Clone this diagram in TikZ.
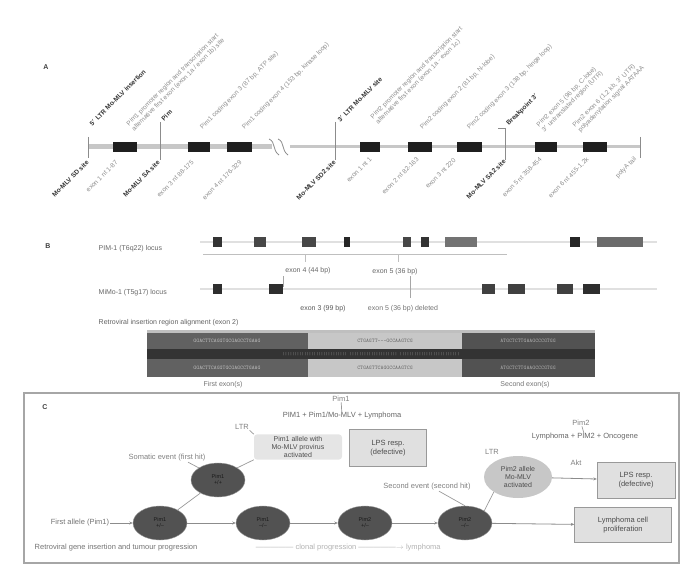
\documentclass[tikz,border=0pt]{standalone}
\usepackage{fontspec}
\setmainfont{Liberation Sans}
\usetikzlibrary{arrows.meta,shapes.geometric}
\begin{document}
\begin{tikzpicture}[x=1pt,y=-1pt,
  font=\fontsize{6.5}{7.5}\selectfont,
  lbl/.style={text=black!45, inner sep=0.5pt, font=\fontsize{6.5}{7.5}\selectfont},
  blbl/.style={text=black!80, font=\fontsize{6.5}{7.5}\selectfont\bfseries, inner sep=0.5pt},
  clbl/.style={text=black!55, inner sep=0.5pt, font=\fontsize{7}{8}\selectfont},
  klbl/.style={text=black!55, inner sep=0.5pt, font=\fontsize{7.5}{8.5}\selectfont},
  upl/.style={rotate=45, anchor=west},
  dnl/.style={rotate=45, anchor=east},
  exonbox/.style={fill=black!88, draw=none},
  tick/.style={draw=black!45, line width=0.8pt},
  panel/.style={font=\fontsize{7}{8}\selectfont\bfseries, text=black!75},
  ell/.style={ellipse, fill=black!68, draw=black!40, minimum width=54pt, minimum height=34pt, inner sep=0pt, font=\fontsize{5.5}{6}\selectfont, text=black!90, align=center},
  gbox/.style={draw=black!40, fill=black!12, inner sep=2pt, align=center, text=black!70, font=\fontsize{7.5}{9.5}\selectfont},
  conn/.style={draw=black!45, line width=0.8pt, -{Stealth[length=3.5pt,width=3pt]}},
  plain/.style={draw=black!40, line width=0.7pt},
  seq/.style={font=\fontsize{5.5}{6}\ttfamily, inner sep=0pt}
]
\useasboundingbox (0,0) rectangle (698,577);

% ---------------- Panel A ----------------
\node[panel] (pa) at (46,67) {A};
\coordinate (a0) at (88,147);
\coordinate (a1) at (272,147);
\coordinate (a2) at (290,147);
\coordinate (a3) at (640,147);
\draw[black!22, line width=5pt] (a0) -- (a1);
\draw[black!22, line width=3pt] (a2) -- (a3);
\draw[black!45, line width=0.8pt] (269,139) .. controls (276,142) and (272,150) .. (279,155);
\draw[black!45, line width=0.8pt] (278,139) .. controls (285,142) and (281,150) .. (288,155);
\foreach \xa/\xb in {113/137,188/210,227/252,360/380,408/432,457/482,535/557,583/607}
  \fill[exonbox] (\xa,142) rectangle (\xb,152);
% ticks
\draw[tick] (88,137) -- (88,158);
\draw[tick] (160,122) -- (160,160);
\draw[tick] (335,122) -- (335,160);
\draw[tick] (505,128) -- (505,160);
\draw[tick] (640,137) -- (640,158);
\draw[tick] (498,128) -- (505,128);
% labels above
\node[blbl,upl] (u1) at (90,125) {5$'$ LTR Mo-MLV insertion};
\node[lbl,upl,align=left] (u2) at (130,128) {Pim1 promoter region and transcription start\\alternative first exon (exon 1a / exon 1b) site};
\node[blbl,upl] (u3) at (162,120) {Pim};
\node[lbl,upl] (u4) at (201,129) {Pim1 coding exon 3 (87 bp, ATP site)};
\node[lbl,upl] (u5) at (243,129) {Pim1 coding exon 4 (153 bp, kinase loop)};
\node[blbl,upl] (u6) at (338,121) {3$'$ LTR Mo-MLV site};
\node[lbl,upl,align=left] (u7) at (374,121) {Pim2 promoter region and transcription start\\alternative first exon (exon 1a - exon 1c)};
\node[lbl,upl] (u8) at (421,129) {Pim2 coding exon 2 (81 bp, N-lobe)};
\node[lbl,upl] (u9) at (468,129) {Pim2 coding exon 3 (138 bp, hinge loop)};
\node[blbl,upl] (u10) at (507,125) {Breakpoint 3$'$};
\node[lbl,upl,align=left] (u11) at (540,129) {Pim2 exon 5 (96 bp, C-lobe)\\3$'$ untranslated region (UTR)};
\node[lbl,upl,align=left] (u12) at (576,129) {Pim2 exon 6 (1.2 kb, 3$'$ UTR)\\polyadenylation signal AATAAA};
% labels below
\node[blbl,dnl] (d1) at (88,161) {Mo-MLV SD site};
\node[lbl,dnl] (d2) at (117,161) {exon 1 nt 1-87};
\node[blbl,dnl] (d3) at (159,161) {Mo-MLV SA site};
\node[lbl,dnl] (d4) at (193,161) {exon 3 nt 88-175};
\node[lbl,dnl] (d5) at (241,161) {exon 4 nt 176-329};
\node[blbl,dnl] (d6) at (335,161) {Mo-MLV SD2 site};
\node[lbl,dnl] (d7) at (371,158) {exon 1 nt 1};
\node[lbl,dnl] (d8) at (418,158) {exon 2 nt 82-163};
\node[lbl,dnl] (d9) at (455,159) {exon 3 nt 220};
\node[blbl,dnl] (d10) at (505,160) {Mo-MLV SA2 site};
\node[lbl,dnl] (d11) at (541,158) {exon 5 nt 358-454};
\node[lbl,dnl] (d12) at (588,158) {exon 6 nt 455-1.2k};
\node[lbl,dnl] (d13) at (636,158) {polyA tail};

% ---------------- Panel B ----------------
\node[panel] (pb) at (48,246) {B};
\node[clbl,anchor=west,text=black!60] (r1) at (98,249) {PIM-1 (T6q22) locus};
\node[clbl,anchor=west,text=black!60] (r2) at (98,293) {MiMo-1 (T5g17) locus};
\coordinate (b1s) at (200,242);
\coordinate (b1e) at (657,242);
\coordinate (b2s) at (200,289);
\coordinate (b2e) at (657,289);
\draw[black!12, line width=2pt] (b1s) -- (b1e);
\draw[black!12, line width=2pt] (b2s) -- (b2e);
\foreach \xa/\xb/\sh in {213/222/80,254/266/72,302/316/72,344/350/85,403/411/72,421/429/80,445/477/55,570/580/85,597/643/58}
  \fill[black!\sh] (\xa,237) rectangle (\xb,247);
\foreach \xa/\xb/\sh in {213/222/82,269/283/82,482/495/75,508/525/75,557/573/75,583/600/82}
  \fill[black!\sh] (\xa,284) rectangle (\xb,294);
\draw[black!25, line width=0.6pt] (203,254) -- (507,254);
\draw[black!25, line width=0.6pt] (305,254) -- (305,262);
\draw[black!25, line width=0.6pt] (398,254) -- (398,262);
\node[clbl,text=black!60] (bl1) at (308,271) {exon 4 (44 bp)};
\node[clbl,text=black!60] (bl2) at (395,272) {exon 5 (36 bp)};
\draw[black!35, line width=0.6pt] (283,276) -- (283,287);
\draw[black!35, line width=0.6pt] (410,276) -- (410,298);
\node[clbl,text=black!65] (bl3) at (323,309) {exon 3 (99 bp)};
\node[clbl,text=black!55] (bl4) at (403,309) {exon 5 (36 bp) deleted};
\node[clbl,anchor=west,text=black!62] (bt) at (98,323) {Retroviral insertion region alignment (exon 2)};
% table
\fill[black!25] (147,330) rectangle (595,333);
\fill[black!62] (147,333) rectangle (308,349);
\fill[black!22] (308,333) rectangle (462,349);
\fill[black!68] (462,333) rectangle (595,349);
\fill[black!80] (147,349) rectangle (595,359);
\fill[black!62] (147,359) rectangle (308,377);
\fill[black!22] (308,359) rectangle (462,377);
\fill[black!68] (462,359) rectangle (595,377);
\node[seq,text=black!25] (t11) at (227,341) {GGACTTCAGGTGCGAGCCTGAAG};
\node[seq,text=black!60] (t12) at (385,341) {CTGAGTT---GCCAAGTCG};
\node[seq,text=black!30] (t13) at (528,341) {ATGCTCTTGAAGCCCGTGG};
\node[seq,text=black!45,font=\fontsize{4.5}{5}\ttfamily] (t2) at (371,354) {||||||||||||||||||||||||||| |||||||||||||||||||| |||||||||||||||||||||||||};
\node[seq,text=black!25] (t31) at (227,368) {GGACTTCAGGTGCGAGCCTGAAG};
\node[seq,text=black!60] (t32) at (385,368) {CTGAGTTCAGGCCAAGTCG};
\node[seq,text=black!30] (t33) at (528,368) {ATGCTCTTGAAGCCCGTGG};
\node[clbl,text=black!55] (tl1) at (223,385) {First exon(s)};
\node[clbl,text=black!55] (tl2) at (525,385) {Second exon(s)};

% ---------------- Panel C ----------------
\draw[black!35, line width=1.5pt] (24,393) rectangle (679,563);
\node[panel] (pc) at (45,407) {C};
\node[klbl] (first) at (80,523) {First allele (Pim1)};
\node[ell] (e1) at (160,523) {Pim1\\+/--};
\node[ell] (e2) at (263,523) {Pim1\\--/--};
\node[ell] (e3) at (365,523) {Pim2\\+/--};
\node[ell] (e4) at (465,523) {Pim2\\--/--};
\node[ell] (eu) at (218,480) {Pim1\\+/+};
\draw[conn] (first) -- (e1);
\draw[conn] (e1) -- (e2);
\draw[conn] (e2) -- (e3);
\draw[conn] (e3) -- (e4);
\draw[plain] (e1) -- (eu);
\node[klbl,text=black!50] (som1) at (167,458) {Somatic event (first hit)};
\draw[plain] (som1.south east) ++(-18,0) -- (eu.north west);
\node[gbox,fill=black!10,draw=none,rounded corners=3pt,minimum width=88pt,font=\fontsize{7}{8}\selectfont] (ga) at (298,447) {Pim1 allele with\\Mo-MLV provirus\\activated};
\draw[plain] (eu.north east) -- (ga.south west);
\node[klbl,text=black!50] (sa) at (242,427) {LTR};
\draw[plain] (sa.south east) -- (ga.north west);
\node[klbl,text=black!60] (ha) at (342,416) {PIM1 + Pim1/Mo-MLV + Lymphoma};
\node[klbl,text=black!50] (hs) at (341,399) {Pim1};
\draw[plain] (hs) -- (ha);
\node[gbox,minimum width=77pt,minimum height=37pt] (lpa) at (388,448) {LPS resp.\\(defective)};
\node[klbl,text=black!50] (som2) at (427,487) {Second event (second hit)};
\draw[plain] (som2.south) ++(12,0) -- (e4.north);
\node[gbox,fill=black!22,draw=none,ellipse,minimum width=68pt,minimum height=42pt,inner sep=0pt,font=\fontsize{7}{8}\selectfont] (gb) at (518,477) {Pim2 allele\\Mo-MLV\\activated};
\draw[plain] (e4.north east) -- (gb.south west);
\node[klbl,text=black!50] (sb) at (492,452) {LTR};
\node[klbl,text=black!50] (hbs) at (581,423) {Pim2};
\node[klbl,text=black!60] (hb) at (585,437) {Lymphoma + PIM2 + Oncogene};
\draw[plain] (hbs) -- (hb);
\node[gbox,minimum width=78pt,minimum height=36pt] (lpb) at (636,480) {LPS resp.\\(defective)};
\node[klbl,text=black!50] (ab) at (576,463) {Akt};
\draw[conn] (gb) -- (lpb);
\node[gbox,minimum width=97pt,minimum height=35pt] (ly) at (623,525) {Lymphoma cell\\proliferation};
\draw[conn] (e4) -- (ly);
\node[klbl,anchor=west,text=black!55] (bot1) at (34,548) {Retroviral gene insertion and tumour progression};
\node[klbl,anchor=west,text=black!30] (bot2) at (254,548) {\,--------------- clonal progression ---------------$\rightarrow$ lymphoma};
\end{tikzpicture}
\end{document}
